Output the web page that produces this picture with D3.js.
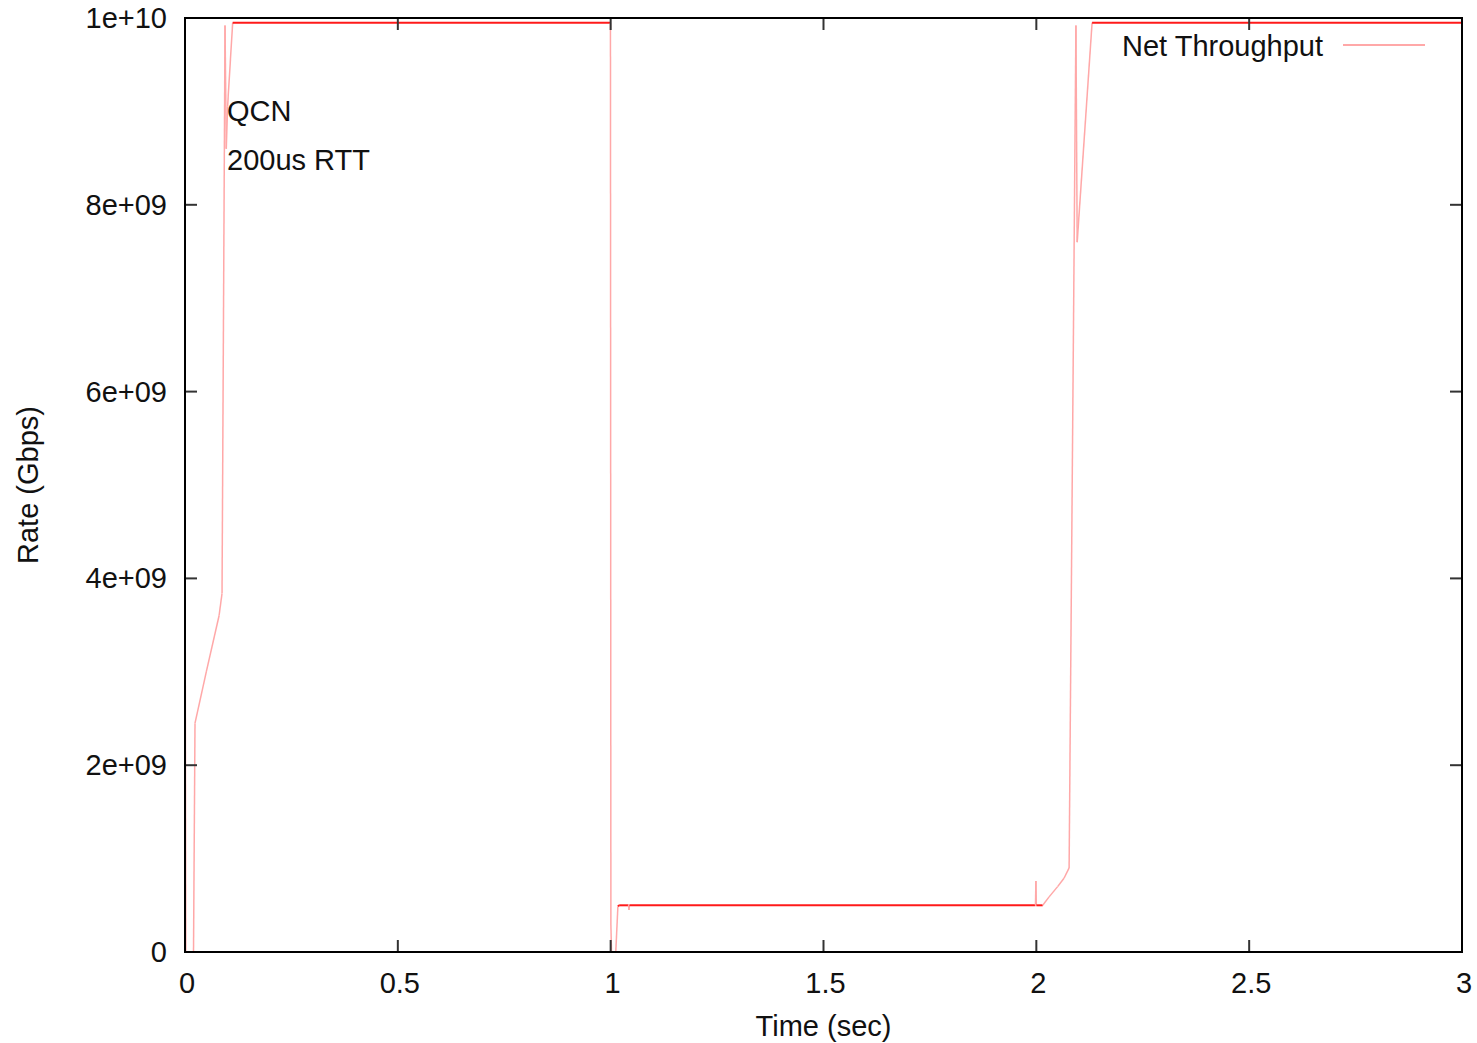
<!DOCTYPE html>
<html>
<head>
<meta charset="utf-8">
<script src="https://cdn.jsdelivr.net/npm/d3@7"></script>
<style>
  body { margin: 0; background: #fff; }
  text { font-family: "Liberation Sans", Arial, sans-serif; fill: #111; }
</style>
</head>
<body>
<div id="plot"></div>
<script>
// time (sec) and rate values
var times = [0, 0.002, 0.02, 0.0235, 0.05, 0.08, 0.087, 0.094, 0.097, 0.1, 0.112,
             0.9995, 1.0005, 1.002, 1.012, 1.017, 1.020, 1.042, 1.043, 1.044,
             1.998, 1.999, 2.000, 2.015, 2.03, 2.05, 2.065, 2.077, 2.093, 2.096, 2.131, 3.0];
var rates = [4.8e9, 0, 0, 2.45e9, 3.0e9, 3.6e9, 3.84e9, 9.92e9, 8.6e9, 9.05e9, 9.95e9,
             9.95e9, 0.3e9, 0, 0, 4.9e8, 5.0e8, 5.0e8, 4.5e8, 5.0e8,
             5.0e8, 7.6e8, 5.0e8, 5.0e8, 5.9e8, 7.0e8, 7.9e8, 0.9e9, 9.92e9, 7.6e9, 9.95e9, 9.95e9];

var xTicks = [0, 0.5, 1, 1.5, 2, 2.5, 3];
var xTickLabels = ["0", "0.5", "1", "1.5", "2", "2.5", "3"];
var yTicks = [0, 2e9, 4e9, 6e9, 8e9, 1e10];
var yTickLabels = ["0", "2e+09", "4e+09", "6e+09", "8e+09", "1e+10"];

var W = 1477, H = 1043;
var pL = 185, pR = 1462, pT = 18, pB = 952;
var fs = "29px";

var svg = d3.select("#plot").append("svg")
	.attr("width", W)
	.attr("height", H);

var x = d3.scaleLinear().domain([0, 3]).range([pL, pR]);
var y = d3.scaleLinear().domain([0, 1e10]).range([pB, pT]);

// line segments, flat parts drawn darker like the overlapping samples in the original
var pts = times.map(function(t, i) { return [x(t), y(rates[i])]; });
var segs = [];
for (var i = 0; i < pts.length - 1; i++) segs.push([pts[i], pts[i + 1]]);

function flat(d) { return Math.abs(d[1][1] - d[0][1]) < 2; }

svg.append("g").selectAll("line")
	.data(segs)
	.enter().append("line")
	.attr("x1", function(d) { return d[0][0]; })
	.attr("y1", function(d) { return d[0][1]; })
	.attr("x2", function(d) { return d[1][0]; })
	.attr("y2", function(d) { return d[1][1]; })
	.attr("stroke", function(d) { return flat(d) ? "#ff1a1a" : "#ffa8a8"; })
	.attr("stroke-width", function(d) { return flat(d) ? 2 : 1.5; });

// ticks (mirrored, inward)
var tl = 12;
var tickCol = "#333";
var gx = svg.append("g");
gx.selectAll(".xb").data(xTicks).enter().append("line")
	.attr("x1", function(d) { return x(d); }).attr("x2", function(d) { return x(d); })
	.attr("y1", pB).attr("y2", pB - tl)
	.attr("stroke", tickCol).attr("stroke-width", 2);
gx.selectAll(".xt").data(xTicks).enter().append("line")
	.attr("x1", function(d) { return x(d); }).attr("x2", function(d) { return x(d); })
	.attr("y1", pT).attr("y2", pT + tl)
	.attr("stroke", tickCol).attr("stroke-width", 2);
gx.selectAll("text").data(xTicks).enter().append("text")
	.attr("x", function(d) { return x(d) + 2; })
	.attr("y", pB + 41)
	.attr("text-anchor", "middle")
	.style("font-size", fs)
	.text(function(d, i) { return xTickLabels[i]; });

var gy = svg.append("g");
gy.selectAll(".yl").data(yTicks).enter().append("line")
	.attr("x1", pL).attr("x2", pL + tl)
	.attr("y1", function(d) { return y(d); }).attr("y2", function(d) { return y(d); })
	.attr("stroke", tickCol).attr("stroke-width", 2);
gy.selectAll(".yr").data(yTicks).enter().append("line")
	.attr("x1", pR).attr("x2", pR - tl)
	.attr("y1", function(d) { return y(d); }).attr("y2", function(d) { return y(d); })
	.attr("stroke", tickCol).attr("stroke-width", 2);
gy.selectAll("text").data(yTicks).enter().append("text")
	.attr("x", pL - 18)
	.attr("y", function(d) { return y(d) + 10; })
	.attr("text-anchor", "end")
	.style("font-size", fs)
	.text(function(d, i) { return yTickLabels[i]; });

// frame
svg.append("rect")
	.attr("x", pL).attr("y", pT)
	.attr("width", pR - pL).attr("height", pB - pT)
	.attr("fill", "none")
	.attr("stroke", "#000")
	.attr("stroke-width", 2);

// axis titles
svg.append("text")
	.attr("x", (pL + pR) / 2)
	.attr("y", 1036)
	.attr("text-anchor", "middle")
	.style("font-size", fs)
	.text("Time (sec)");
svg.append("text")
	.attr("transform", "translate(38," + ((pT + pB) / 2) + ") rotate(-90)")
	.attr("text-anchor", "middle")
	.style("font-size", fs)
	.text("Rate (Gbps)");

// labels inside plot
svg.append("text").attr("x", 227).attr("y", 121).style("font-size", fs).text("QCN");
svg.append("text").attr("x", 227).attr("y", 170).style("font-size", fs).text("200us RTT");

// legend
svg.append("text")
	.attr("x", 1323).attr("y", 56)
	.attr("text-anchor", "end")
	.style("font-size", fs)
	.text("Net Throughput");
svg.append("line")
	.attr("x1", 1343).attr("x2", 1425)
	.attr("y1", 45).attr("y2", 45)
	.attr("stroke", "#ffa8a8").attr("stroke-width", 2);
</script>
</body>
</html>
